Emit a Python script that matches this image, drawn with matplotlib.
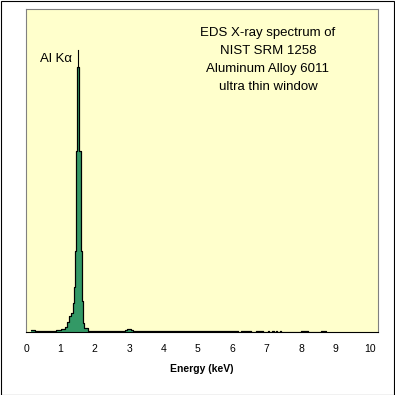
import numpy as np
import matplotlib
matplotlib.use("Agg")
import matplotlib.pyplot as plt
from matplotlib.patches import Rectangle

# ---- data ----
# bin edges in keV and counts per bin (relative units, axis top = 1000)
bin_edges_kev = [0.15, 0.26, 0.87, 1.02, 1.13, 1.19, 1.25, 1.31, 1.36, 1.40,
                 1.43, 1.45, 1.48, 1.54, 1.60, 1.62, 1.65, 1.69, 1.80, 2.88,
                 2.95, 3.04, 3.10, 6.16, 6.25, 6.54, 6.69, 6.89, 7.05, 7.08,
                 7.17, 7.20, 7.26, 7.29, 7.40, 7.43, 7.99, 8.20, 8.58, 8.72]
bin_counts = [5, 3, 6, 10, 16, 30, 50, 60, 90, 140,
              250, 560, 820, 560, 250, 95, 28, 12, 3, 6,
              9, 6, 3, 0, 3, 0, 3, 0, 3, 0,
              3, 0, 3, 0, 3, 0, 3, 0, 3]

x_ticks = [0, 1, 2, 3, 4, 5, 6, 7, 8, 9, 10]
x_tick_labels = ["0", "1", "2", "3", "4", "5", "6", "7", "8", "9", "10"]
x_range = [0.0, 10.24]
y_range = [0, 1000]

peak_label = "Al K\u03b1"
peak_energy = 1.51
peak_marker_top = 873

title_lines = ["EDS X-ray spectrum of", "NIST SRM 1258",
               "Aluminum Alloy 6011", "ultra thin window"]
x_label = "Energy (keV)"

# ---- style ----
plt.rcParams['font.family'] = ['Liberation Sans', 'DejaVu Sans']
BG = "#FFFFCC"
GREEN = "#339966"
W = H = 395

fig = plt.figure(figsize=(W / 100, H / 100), dpi=100)
fig.patch.set_facecolor("white")
ax = fig.add_axes([26 / W, 1 - 332 / H, 352 / W, 323 / H])
ax.set_facecolor(BG)

edges = np.array(bin_edges_kev, dtype=float)
counts = np.array(bin_counts, dtype=float)
vals = np.where(counts > 0, counts, np.nan)
xs = edges
ys = np.append(vals, vals[-1])
ys_fill = np.append(counts, counts[-1])
ax.fill_between(xs, 0, ys_fill, step="post", color=GREEN, linewidth=0)
ax.plot(xs, ys, drawstyle="steps-post", color="black", linewidth=0.8,
        solid_joinstyle="miter")
# vertical edges of the peak outline
ax.stairs(counts, edges, color="black", linewidth=0.8, baseline=None)

# peak label marker
ax.plot([peak_energy, peak_energy], [820, peak_marker_top], color="black",
        linewidth=0.8)

ax.set_xlim(*x_range)
ax.set_ylim(*y_range)
ax.set_xticks(x_ticks)
ax.set_xticklabels(x_tick_labels, fontsize=7.5)
ax.tick_params(axis="x", length=0, pad=9)
ax.set_yticks([])
for s in ["left", "top", "right"]:
    ax.spines[s].set_color("#808080")
    ax.spines[s].set_linewidth(0.8)
ax.spines["bottom"].set_color("black")
ax.spines["bottom"].set_linewidth(0.8)

# texts
fig.text(72 / W, 1 - 59 / H, peak_label, ha="right", va="center", fontsize=9.5)
for i, line in enumerate(title_lines):
    fig.text(268 / W, 1 - (33 + 18 * i) / H, line, ha="center", va="center",
             fontsize=9.5)
fig.text(202 / W, 1 - 369 / H, x_label, ha="center", va="center",
         fontsize=7.5, fontweight="bold")

# figure border
fig.patches.append(Rectangle((0.5 / W, 0.5 / H), 1 - 1.5 / W, 1 - 1.5 / H,
                             transform=fig.transFigure, fill=False,
                             edgecolor="black", linewidth=0.8))

fig.savefig("out.png", dpi=100, facecolor="white")
